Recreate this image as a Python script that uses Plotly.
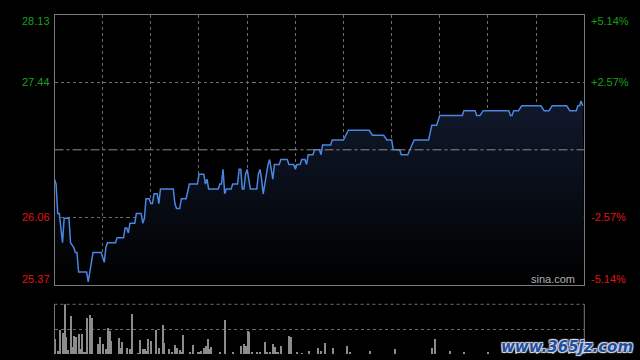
import plotly.graph_objects as go

# ---- data (HK intraday, minute index 0..330) ----
prev_close = 26.75
axis_ticks = [28.13, 27.44, 26.06, 25.37]
pct_labels = ["+5.14%", "+2.57%", "-2.57%", "-5.14%"]

price_minute = [0, 1, 2, 3, 5, 6, 9, 10, 12, 13, 14, 15, 20, 21, 24, 29, 31, 32, 33, 38,
                39, 43, 44, 45, 46, 47, 50, 51, 54, 55, 56, 57, 59, 60, 61, 62, 64, 65, 66, 74,
                75, 76, 78, 79, 82, 84, 89, 90, 93, 94, 95, 96, 102, 103, 104, 105, 106, 107, 110, 111,
                114, 115, 116, 117, 118, 119, 120, 122, 126, 127, 128, 129, 130, 133, 134, 136, 137, 140, 141, 145,
                146, 149, 150, 151, 153, 154, 156, 157, 158, 161, 162, 165, 166, 167, 172, 173, 180, 183, 196, 198,
                205, 207, 210, 211, 215, 216, 220, 224, 233, 235, 238, 240, 254, 255, 262, 263, 265, 267, 283, 284,
                285, 286, 289, 291, 303, 305, 308, 310, 319, 321, 325, 326, 327, 328, 329]
price = [26.45, 26.40, 26.10, 26.10, 25.80, 26.05, 26.05, 25.80, 25.75, 25.70, 25.70, 25.50, 25.50, 25.40, 25.70, 25.70, 25.60, 25.75, 25.80, 25.80,
         25.85, 25.85, 25.95, 25.95, 25.90, 26.00, 26.00, 26.10, 26.10, 26.00, 26.05, 26.25, 26.25, 26.20, 26.20, 26.30, 26.30, 26.20, 26.35, 26.35,
         26.20, 26.15, 26.15, 26.25, 26.25, 26.40, 26.40, 26.50, 26.50, 26.40, 26.45, 26.35, 26.35, 26.40, 26.40, 26.55, 26.30, 26.35, 26.35, 26.40,
         26.40, 26.55, 26.55, 26.35, 26.35, 26.50, 26.55, 26.35, 26.35, 26.50, 26.55, 26.45, 26.30, 26.60, 26.65, 26.45, 26.60, 26.60, 26.65, 26.65,
         26.60, 26.60, 26.55, 26.60, 26.60, 26.65, 26.65, 26.60, 26.70, 26.70, 26.75, 26.75, 26.70, 26.80, 26.80, 26.85, 26.85, 26.95, 26.95, 26.90,
         26.90, 26.85, 26.85, 26.75, 26.75, 26.70, 26.70, 26.85, 26.85, 27.00, 27.00, 27.10, 27.10, 27.15, 27.15, 27.10, 27.10, 27.15, 27.15, 27.10,
         27.10, 27.15, 27.15, 27.20, 27.20, 27.15, 27.15, 27.20, 27.20, 27.15, 27.15, 27.20, 27.20, 27.25, 27.20]

vol_minute = [0, 2, 3, 5, 6, 7, 8, 10, 11, 12, 13, 15, 16, 17, 18, 19, 20, 22, 23, 27,
              28, 30, 32, 33, 34, 35, 40, 41, 42, 45, 47, 48, 52, 53, 55, 56, 57, 58, 60, 63,
              65, 67, 68, 71, 73, 75, 76, 78, 79, 80, 84, 86, 89, 90, 91, 93, 94, 95, 96, 97,
              103, 106, 111, 116, 118, 119, 120, 121, 123, 126, 128, 131, 132, 134, 136, 137, 138, 139, 141, 146,
              147, 151, 154, 158, 164, 166, 168, 173, 182, 184, 196, 212, 235, 237, 246, 255, 270, 287, 300, 310,
              320, 326, 329]
volume = [31, 7, 49, 43, 100, 35, 9, 77, 15, 37, 35, 41, 11, 41, 5, 3, 73, 79, 73, 21,
          35, 21, 10, 52, 47, 27, 33, 13, 25, 12, 11, 81, 2, 29, 10, 11, 7, 31, 27, 49,
          13, 59, 23, 11, 5, 19, 13, 9, 5, 39, 3, 19, 3, 4, 6, 13, 17, 31, 10, 15,
          3, 69, 3, 17, 21, 17, 47, 45, 3, 3, 5, 25, 4, 3, 21, 15, 4, 3, 17, 37,
          35, 3, 2, 7, 13, 7, 23, 13, 17, 5, 7, 11, 13, 31, 7, 3, 3, 9, 4, 3,
          5, 6, 8]

GRID = "#6e6e6e"
BORDER = "#7a7a7a"
GREEN = "#17a017"
RED = "#e01414"

fig = go.Figure()

# baseline for the gradient fill
fig.add_trace(go.Scatter(x=[0, 330], y=[axis_ticks[-1], axis_ticks[-1]], mode="lines",
                         line=dict(width=0, color="rgba(0,0,0,0)"), hoverinfo="skip",
                         showlegend=False, xaxis="x", yaxis="y"))
fig.add_trace(go.Scatter(x=price_minute, y=price, mode="lines",
                         line=dict(color="#4a86e0", width=1.5),
                         fill="tonexty",
                         fillgradient=dict(type="vertical", start=axis_ticks[-1], stop=max(price),
                                           colorscale=[[0, "rgba(0,0,0,1)"], [1, "rgb(16,25,44)"]]),
                         showlegend=False, xaxis="x", yaxis="y"))
# previous close line
fig.add_trace(go.Scatter(x=[0, 330], y=[prev_close, prev_close], mode="lines",
                         line=dict(color="#8a8a8a", width=1, dash="dashdot"),
                         showlegend=False, hoverinfo="skip", xaxis="x", yaxis="y"))

fig.add_trace(go.Bar(x=vol_minute, y=volume, width=0.65,
                     marker=dict(color="#8c8c8c", line=dict(width=0)),
                     showlegend=False, xaxis="x2", yaxis="y2"))

xdom = [54.5 / 640, 584.3 / 640]
fig.update_layout(
    width=640, height=360,
    margin=dict(l=0, r=0, t=0, b=0),
    paper_bgcolor="black", plot_bgcolor="black",
    font=dict(family="Liberation Sans, Arial", size=11),
    bargap=0,
    xaxis=dict(domain=xdom, range=[0, 330], tickvals=list(range(30, 330, 30)),
               showticklabels=False, ticks="", showgrid=True, gridcolor=GRID, griddash="dot",
               gridwidth=1, zeroline=False, showline=True, linecolor=BORDER, linewidth=1, mirror=True),
    yaxis=dict(domain=[1 - 284.8 / 360, 1 - 14.8 / 360], range=[axis_ticks[-1], axis_ticks[0]],
               tickvals=[axis_ticks[1], axis_ticks[2]], showticklabels=False, ticks="",
               showgrid=True, gridcolor=GRID, griddash="dot", gridwidth=1, zeroline=False,
               showline=True, linecolor=BORDER, linewidth=1, mirror=True),
    xaxis2=dict(domain=xdom, range=[0, 330], showticklabels=False, ticks="", showgrid=False,
                zeroline=False, showline=False, anchor="y2"),
    yaxis2=dict(domain=[1 - 354.3 / 360, 1 - 304.3 / 360], range=[0, 100],
                tickvals=[50], showticklabels=False, ticks="", showgrid=True,
                gridcolor=GRID, griddash="dot", gridwidth=1, zeroline=False, showline=False,
                anchor="x2"),
)

# volume panel side borders and dotted top edge
for xv in [0, 1]:
    fig.add_shape(type="line", xref="x2 domain", yref="y2 domain", x0=xv, x1=xv, y0=0, y1=1,
                  line=dict(color=BORDER, width=1))
fig.add_shape(type="line", xref="x2 domain", yref="y2 domain", x0=0, x1=1, y0=1, y1=1,
              line=dict(color=GRID, width=1, dash="dot"))

shifts = [-6, 0, 0, 6]
colors = [GREEN, GREEN, RED, RED]
for v, p, s, c in zip(axis_ticks, pct_labels, shifts, colors):
    fig.add_annotation(x=0, xref="x domain", y=v, yref="y", text=f"{v:.2f}", showarrow=False,
                       xanchor="right", yanchor="middle", xshift=-3, yshift=s, font=dict(color=c, size=11))
    fig.add_annotation(x=1, xref="x domain", y=v, yref="y", text=p, showarrow=False,
                       xanchor="left", yanchor="middle", xshift=5, yshift=s, font=dict(color=c, size=11))

fig.add_annotation(x=0.94, xref="x domain", y=axis_ticks[-1], yref="y", text="sina.com",
                   showarrow=False, xanchor="center", yanchor="middle", yshift=6,
                   font=dict(color="#b0b0b0", size=11))

fig.add_annotation(x=635 / 640, xref="paper", y=1 - 347 / 360, yref="paper", text="<b><i>www.365jz.com</i></b>",
                   showarrow=False, xanchor="right", yanchor="middle",
                   font=dict(color="#1d4f9c", size=15, family="DejaVu Sans",
                             shadow="1px 1px 1px #dde, -1px -1px 1px #dde, 1px -1px 1px #dde, -1px 1px 1px #dde"))

fig.write_html("out.html", config={"displayModeBar": False},
               post_script="document.body.style.margin='0';document.body.style.background='black';")
